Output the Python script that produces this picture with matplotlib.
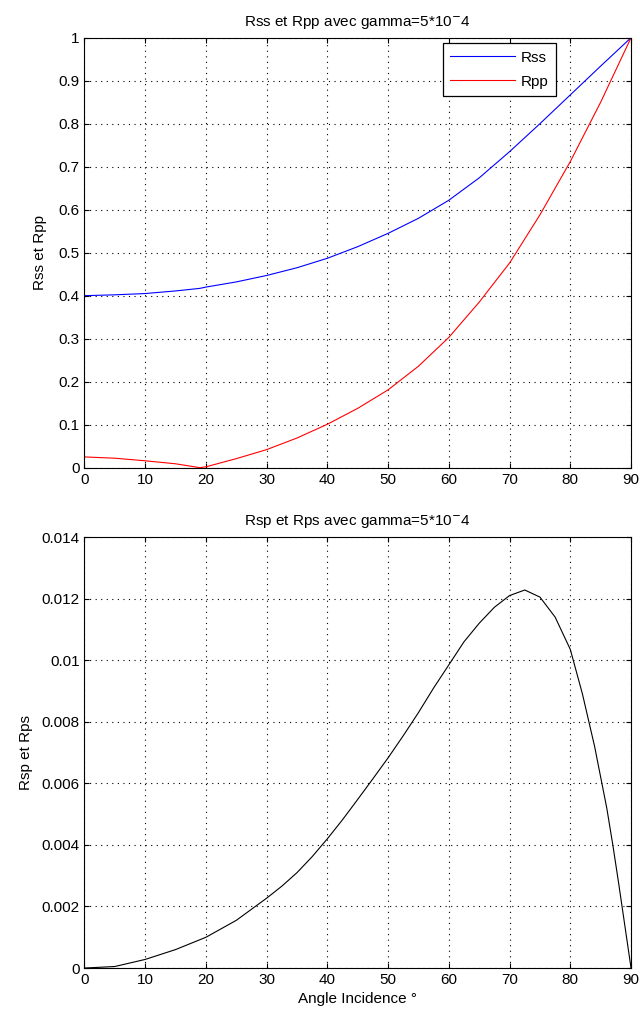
import matplotlib.pyplot as plt
from matplotlib.ticker import FuncFormatter

plt.rcParams['font.family'] = ['Liberation Sans', 'DejaVu Sans']
plt.rcParams['font.size'] = 11

# angles (degrees) and read-off values
angles_top = [0, 5, 10, 15, 19, 20, 25, 30, 35, 40, 45, 50, 55, 60, 65, 70, 75, 80, 85, 90]
rss = [0.400, 0.402, 0.405, 0.411, 0.417, 0.420, 0.432, 0.447, 0.465, 0.487, 0.514, 0.545, 0.580, 0.622, 0.674, 0.735, 0.800, 0.867, 0.934, 1.000]
rpp = [0.025, 0.022, 0.016, 0.009, 0.000, 0.002, 0.021, 0.042, 0.069, 0.101, 0.138, 0.181, 0.236, 0.303, 0.385, 0.476, 0.588, 0.712, 0.850, 1.000]

angles_bot = [0, 5, 10, 15, 20, 25, 30, 32.5, 35, 37.5, 40, 42.5, 45, 47.5, 50, 52.5, 55, 57.5,
              60, 62.5, 65, 67.5, 70, 72.5, 75, 77.5, 80, 82, 84, 86, 87, 88, 89, 90]
rsp = [0.0, 0.00005, 0.00028, 0.0006, 0.0010, 0.00155, 0.00227, 0.00266, 0.0031, 0.00362, 0.0042, 0.00482,
       0.00548, 0.00615, 0.00683, 0.00755, 0.0083, 0.0091,
       0.00985, 0.0106, 0.0112, 0.01172, 0.0121, 0.01228, 0.01205, 0.0114,
       0.01035, 0.0089, 0.0072, 0.0052, 0.0040, 0.0027, 0.00135, 0.0]

fig = plt.figure(figsize=(6.4, 10.16), dpi=100)
ax1 = fig.add_axes([0.132, 0.5397, 0.854, 0.4232])
ax2 = fig.add_axes([0.132, 0.0472, 0.854, 0.4242])


def matlab_style(ax):
    ax.grid(True, color='black', linestyle=(0, (1, 4)), linewidth=0.8)
    ax.tick_params(direction='in', top=True, right=True, length=3.6, width=0.8, labelsize=11)
    for s in ax.spines.values():
        s.set_linewidth(0.8)
    ax.set_xlim(0, 90)
    ax.set_xticks(range(0, 91, 10))
    ax.yaxis.set_major_formatter(FuncFormatter(lambda v, p: f'{v:g}'))


ax1.plot(angles_top, rss, color='#0000ff', linewidth=0.8, label='Rss')
ax1.plot(angles_top, rpp, color='#ff0000', linewidth=0.8, label='Rpp')
matlab_style(ax1)
ax1.set_ylim(0, 1)
ax1.set_yticks([i / 10 for i in range(11)])
ax1.set_ylabel('Rss et Rpp', labelpad=8)
ax1.set_title(r'Rss et Rpp avec gamma=5*10$^{-}$4', fontsize=11, pad=8)
leg = ax1.legend(loc='upper right', bbox_to_anchor=(0.8628, 0.9877), borderaxespad=0,
                 fancybox=False, edgecolor='black', framealpha=1, handlelength=4.2,
                 handletextpad=0.4, labelspacing=0.65, borderpad=0.5, fontsize=11)
leg.get_frame().set_linewidth(0.9)

ax2.plot(angles_bot, rsp, color='black', linewidth=0.8)
matlab_style(ax2)
ax2.set_ylim(0, 0.014)
ax2.set_yticks([i * 0.002 for i in range(8)])
ax2.set_ylabel('Rsp et Rps', labelpad=6)
ax2.set_xlabel('Angle Incidence °')
ax2.set_title(r'Rsp et Rps avec gamma=5*10$^{-}$4', fontsize=11, pad=8)

fig.savefig('out.png', dpi=100)
